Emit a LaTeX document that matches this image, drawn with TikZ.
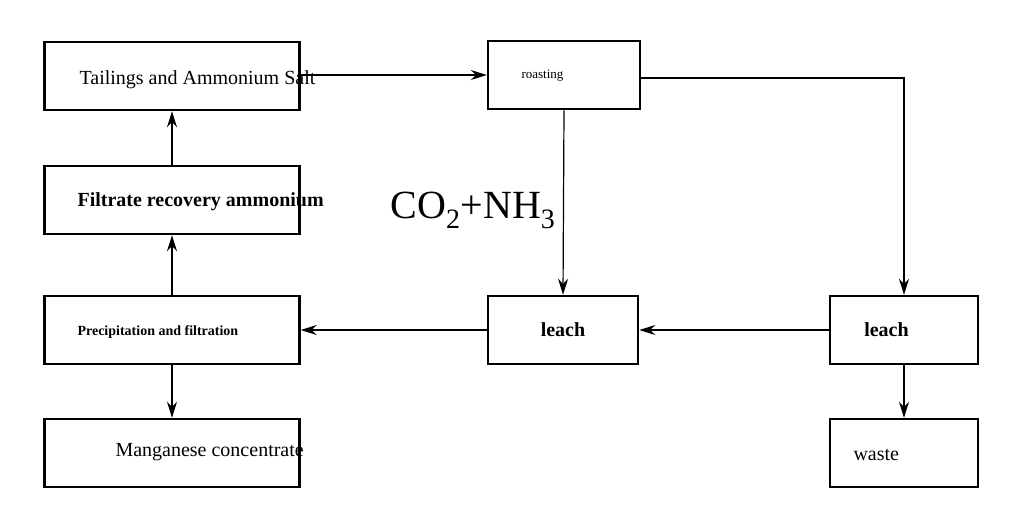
\documentclass[tikz,border=0pt]{standalone}
\usepackage{fontspec}
\setmainfont{Liberation Serif}
\usetikzlibrary{arrows.meta}
\begin{document}
\begin{tikzpicture}[x=1pt,y=-1pt,
  box/.style={draw, line width=2.5pt, minimum width=#1, minimum height=68pt, inner sep=0pt},
  box/.default=255pt,
  arr/.style={-{Stealth[length=16pt,width=10pt]}, line width=1.2pt}]
  \useasboundingbox (0,0) rectangle (1024,528);
  \node[box] (tail) at (172,76) {};
  \node[anchor=west, font=\fontsize{20}{22}\selectfont] at (76,80) {Tailings and Ammonium Salt};
  \node[box=152pt] (roast) at (564,75) {};
  \node[anchor=west, font=\fontsize{13}{15}\selectfont] at (518,76) {roasting};
  \node[box] (filt) at (172,200) {};
  \node[anchor=west, font=\bfseries\fontsize{20}{22}\selectfont] at (74,202) {Filtrate recovery ammonium};
  \node[box] (prec) at (172,330) {};
  \node[anchor=west, font=\bfseries\fontsize{14}{16}\selectfont] at (74,332) {Precipitation and filtration};
  \node[box] (mang) at (172,453) {};
  \node[anchor=west, font=\fontsize{20}{22}\selectfont] at (112,452) {Manganese concentrate};
  \node[box=150pt, font=\bfseries\fontsize{20}{22}\selectfont] (leachm) at (563,330) {leach};
  \node[box=148pt, font=\bfseries\fontsize{20}{22}\selectfont] (leachr) at (904,330) {\hspace*{-35pt}leach};
  \node[box=148pt] (waste) at (904,453) {};
  \node[anchor=west, font=\fontsize{20}{22}\selectfont] at (850,455) {waste};
  \node[font=\fontsize{40}{44}\selectfont] (gas) at (473,210) {CO\textsubscript{2}+NH\textsubscript{3}};
  \draw[arr] (tail.east |- 0,75) -- (roast.west |- 0,75);
  \draw[arr] (roast.south) -- (leachm.north);
  \draw[arr] (roast.east |- 0,78) -| (leachr.north);
  \draw[arr] (leachr.west) -- (leachm.east);
  \draw[arr] (leachm.west) -- (prec.east);
  \draw[arr] (prec.north) -- (filt.south);
  \draw[arr] (filt.north) -- (tail.south);
  \draw[arr] (prec.south) -- (mang.north);
  \draw[arr] (leachr.south) -- (waste.north);
\end{tikzpicture}
\end{document}
